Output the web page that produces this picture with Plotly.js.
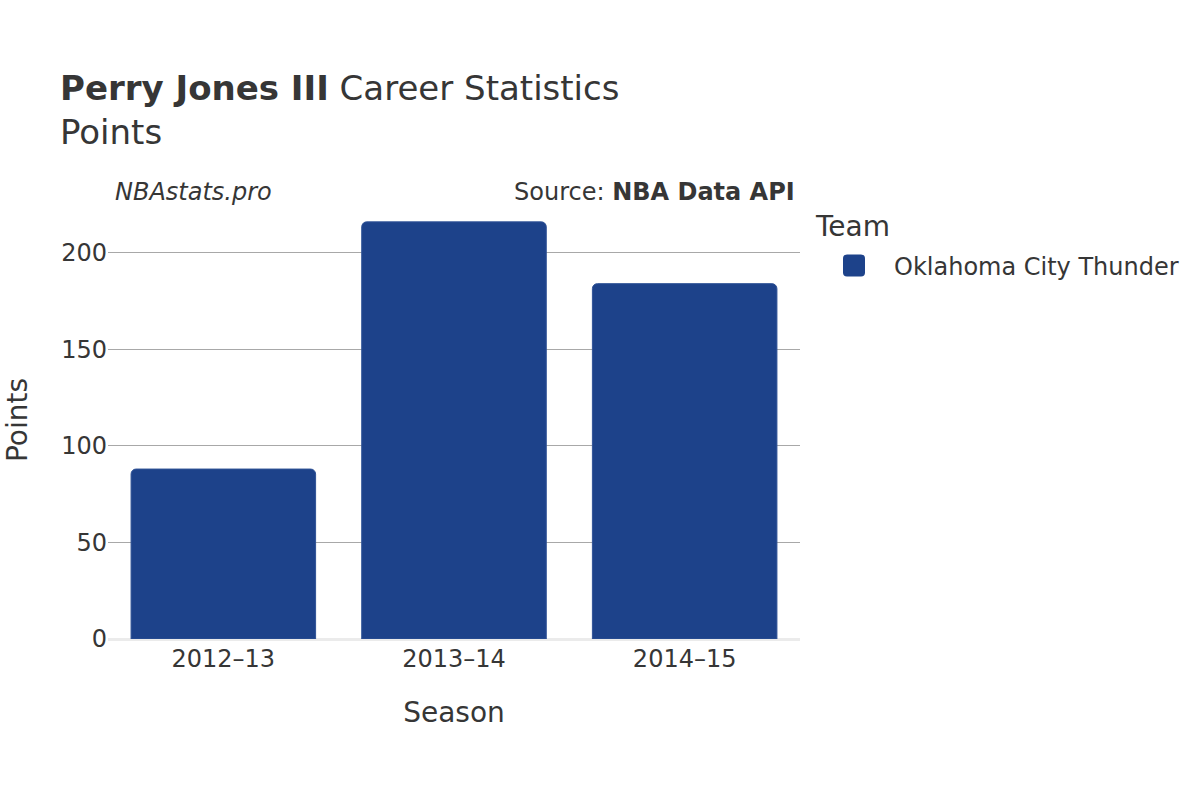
<!DOCTYPE html>
<html>
<head>
<meta charset="utf-8">
<script src="https://cdn.plot.ly/plotly-3.0.1.min.js"></script>
<style>html,body{margin:0;padding:0;background:#fff;}#chart{width:1200px;height:800px;}</style>
</head>
<body>
<div id="chart"></div>
<script>
const seasons = ["2012\u201313", "2013\u201314", "2014\u201315"];
const points = [88, 216, 184];
const teamName = "Oklahoma City Thunder";
const teamColor = "#1d428a";

const font = "DejaVu Sans, sans-serif";
const data = [{
  type: "bar",
  x: seasons,
  y: points,
  name: teamName,
  marker: {color: teamColor, line: {color: "#2f5296", width: 1}},
  hoverinfo: "x+y"
}];

const layout = {
  width: 1200, height: 800,
  paper_bgcolor: "#fff", plot_bgcolor: "#fff",
  font: {family: font, color: "#363636", size: 24},
  margin: {l: 108, r: 400, t: 201, b: 161},
  bargap: 0.2,
  barcornerradius: 5,
  title: {
    text: "<b>Perry Jones III</b> Career Statistics<br>Points",
    x: 0.05, xanchor: "left", xref: "container",
    y: 1 - 100/800, yanchor: "top", yref: "container",
    font: {size: 34, family: font, color: "#363636"}
  },
  xaxis: {
    title: {text: "Season", font: {size: 28}, standoff: 30},
    tickfont: {size: 24},
    ticklabelstandoff: 3,
    showgrid: false,
    ticks: "", ticklen: 0
  },
  yaxis: {
    title: {text: "Points", font: {size: 28}, standoff: 25},
    tickfont: {size: 24},
    range: [0, 226.8],
    tickvals: [0, 50, 100, 150, 200],
    showgrid: true, gridcolor: "#a8a8a8", gridwidth: 1,
    zeroline: true, zerolinecolor: "#ebebeb", zerolinewidth: 3,
    ticks: "", ticklen: 0
  },
  showlegend: true,
  legend: {
    x: 814/1200, xref: "container", xanchor: "left", y: 1 - 207/800, yref: "container", yanchor: "top",
    title: {text: "Team", font: {size: 28}},
    font: {size: 24},
    itemwidth: 70,
    itemsizing: "constant"
  },
  annotations: [
    {text: "<i>NBAstats.pro</i>", xref: "paper", yref: "paper", x: 0.007, y: (639-192)/438,
     xanchor: "left", yanchor: "middle", showarrow: false, font: {size: 24, color: "#363636"}},
    {text: "Source: <b>NBA Data API</b>", xref: "paper", yref: "paper", x: 0.996, y: (639-192)/438,
     xanchor: "right", yanchor: "middle", showarrow: false, font: {size: 24, color: "#363636"}}
  ]
};

Plotly.newPlot("chart", data, layout, {displayModeBar: false, responsive: false}).then(function(gd){
  // enlarge legend swatch to a rounded square
  gd.querySelectorAll(".legendpoints path").forEach(function(p){
    p.setAttribute("d", "M-7,-11H7Q11,-11 11,-7V7Q11,11 7,11H-7Q-11,11 -11,7V-7Q-11,-11 -7,-11Z");
    p.style.strokeWidth = "0";
  });
  gd.querySelectorAll(".legendtitletext").forEach(function(t){
    var y = parseFloat(t.getAttribute("y") || "0");
    t.setAttribute("y", y - 7);
  });
});
</script>
</body>
</html>
